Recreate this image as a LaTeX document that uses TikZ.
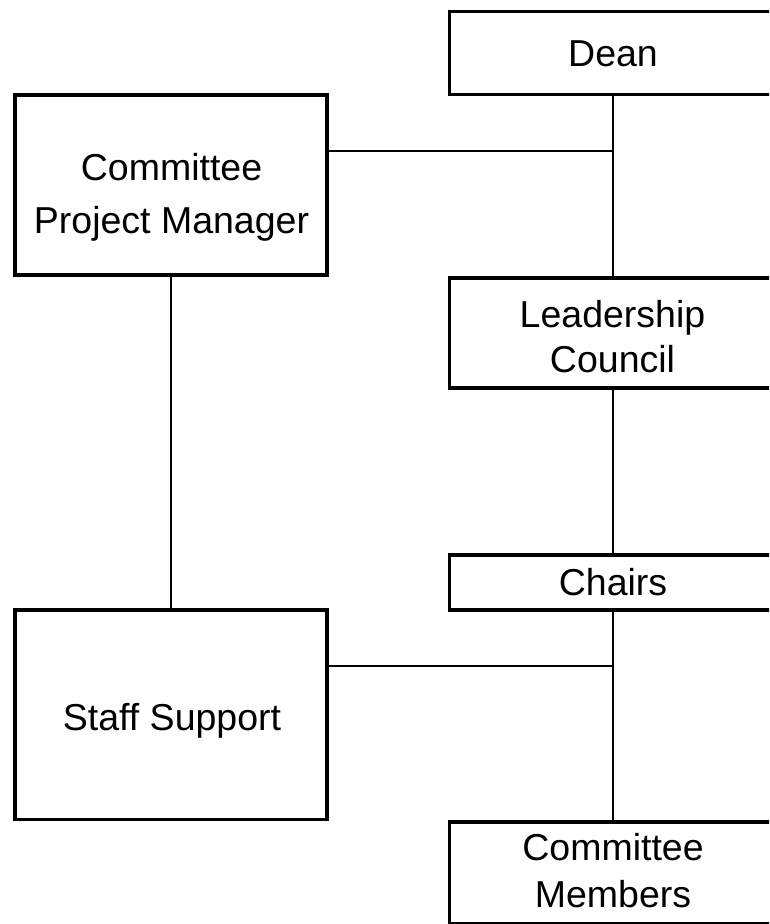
\documentclass[tikz,border=0pt]{standalone}
\usepackage{fontspec}
\setmainfont{Liberation Sans}
\begin{document}
\begin{tikzpicture}[x=1pt,y=-1pt,
  orgbox/.style={draw=black, line width=3.5pt, rectangle, inner sep=0pt, fill=white},
  link/.style={draw=black, line width=2pt},
  lbl/.style={anchor=base, inner sep=0pt, font=\fontsize{37.5}{45}\selectfont}]
\path[fill=white, use as bounding box] (0,0) rectangle (769,924);
\clip (0,0) rectangle (769,924);
% boxes
\node[orgbox, minimum width=327pt, minimum height=83pt] (dean) at (613,53) {};
\node[orgbox, minimum width=312pt, minimum height=180pt] (cpm) at (171,185) {};
\node[orgbox, minimum width=327pt, minimum height=110pt] (lc) at (613,333) {};
\node[orgbox, minimum width=327pt, minimum height=55pt] (chairs) at (613,582.5) {};
\node[orgbox, minimum width=312pt, minimum height=209.5pt] (staff) at (171,714.75) {};
\node[orgbox, minimum width=327pt, minimum height=102pt] (cm) at (613,873) {};
% junctions
\coordinate (j1) at (613,151);
\coordinate (j2) at (613,666);
% connectors
\draw[link] (dean.south) -- (lc.north);
\draw[link] (lc.south) -- (chairs.north);
\draw[link] (chairs.south) -- (cm.north);
\draw[link] (cpm.south) -- (staff.north);
\draw[link] (cpm.east |- j1) -- ([xshift=1pt]j1);
\draw[link] (staff.east |- j2) -- ([xshift=1pt]j2);
% labels
\node[lbl] (tdean) at (613,66) {Dean};
\node[lbl] (tcpm1) at (171.5,180) {Committee};
\node[lbl] (tcpm2) at (171.5,233) {Project Manager};
\node[lbl] (tlc1) at (612.5,327) {Leadership};
\node[lbl] (tlc2) at (612.5,372) {Council};
\node[lbl] (tch) at (613,595) {Chairs};
\node[lbl] (tst) at (172,730) {Staff Support};
\node[lbl] (tcm1) at (613,860) {Committee};
\node[lbl] (tcm2) at (613,907) {Members};
\end{tikzpicture}
\end{document}
